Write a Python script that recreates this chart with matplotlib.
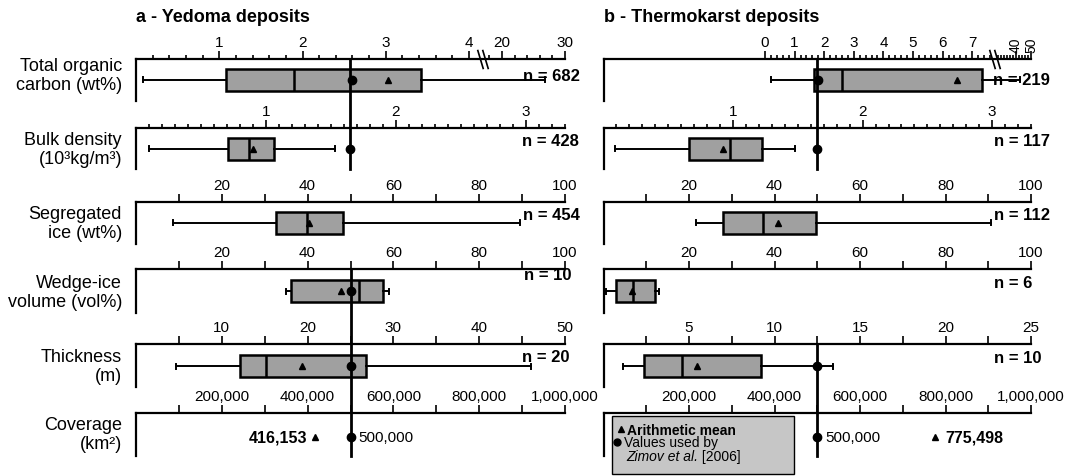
import numpy as np
import matplotlib.pyplot as plt
from matplotlib.patches import Rectangle
from matplotlib.lines import Line2D
from matplotlib.transforms import ScaledTranslation

plt.rcParams['font.family'] = ['Liberation Sans', 'DejaVu Sans']

# ---------------- data ----------------
row_labels = ['Total organic\ncarbon (wt%)', 'Bulk density\n(10³kg/m³)', 'Segregated\nice (wt%)',
              'Wedge-ice\nvolume (vol%)', 'Thickness\n(m)', 'Coverage\n(km²)']
titles = ['a - Yedoma deposits', 'b - Thermokarst deposits']

# a - Yedoma: TOC, bulk density, segregated ice, wedge ice, thickness
yed_whislo = [0.08, 0.10, 8.7, 34.9, 4.7]
yed_q1 = [1.08, 0.71, 32.6, 36.1, 12.1]
yed_med = [1.9, 0.87, 39.8, 52.0, 15.2]
yed_q3 = [3.42, 1.06, 48.2, 57.6, 26.8]
yed_whishi = [26.8, 1.53, 89.5, 59.0, 46.0]
yed_mean = [3.03, 0.90, 40.3, 47.7, 19.4]
yed_zimov = [2.6, 1.65, None, 50, 25]
yed_n = [682, 428, 454, 10, 20]
yed_cov_mean = 416153

# b - Thermokarst
tk_whislo = [0.2, 0.09, 21.7, 0.7, 1.16]
tk_q1 = [1.66, 0.66, 27.9, 2.9, 2.37]
tk_med = [2.6, 0.98, 37.3, 6.8, 4.57]
tk_q3 = [7.32, 1.22, 49.8, 12.1, 9.2]
tk_whishi = [42.7, 1.48, 90.7, 12.9, 13.4]
tk_mean = [6.48, 0.925, 40.8, 6.6, 5.49]
tk_zimov = [1.8, 1.65, None, None, 12.5]
tk_n = [219, 117, 112, 6, 10]
tk_cov_mean = 775498

zimov_cov = 500000

# ---------------- layout (pixels) ----------------
W, H = 1068, 477
panel_left = [136, 603.5]
panel_width = [429, 427.5]
row_top = [60, 129, 203, 270, 345, 414]
row_h = [42, 41, 42, 44, 43, 43]
box_y = [20.5, 20.5, 20.5, 22, 22]
label_y = [76, 150, 224, 293, 367, 435]
n_right = [[580, 579, 580, 572, 570], [1050, 1050, 1050, 1032, 1042]]
n_y = [[76.7, 141.7, 215.7, 275.7, 358], [80.7, 141.7, 215.7, 284, 358.3]]
line_top_row = [3, 4]   # lower zimov line starts at this row's spine

BOX = '#a0a0a0'
LEG = '#c6c6c6'


def broken(xp, fp):
    xp = np.asarray(xp, float)
    fp = np.asarray(fp, float)
    return (lambda v: np.interp(v, xp, fp), lambda u: np.interp(u, fp, xp))


fine = np.arange(0.2, 4.01, 0.2)
fine_b = np.arange(0.2, 7.61, 0.2)
cfg = [
    # panel a
    [dict(fun=broken([0, 4.15, 17, 30], [0, 345.5, 347.1, 429]), lim=(0, 30),
          major=[1, 2, 3, 4, 20, 30], labels=['1', '2', '3', '4', '20', '30'],
          minor=list(fine[np.abs(fine - np.round(fine)) > 0.01]) + [18, 22, 24, 26, 28],
          minlen=3, brk=10),
     dict(lim=(0, 3.3), major=[1, 2, 3], labels=['1', '2', '3'],
          minor=list(np.arange(0.1, 3.31, 0.1)), minlen=3),
     dict(lim=(0, 100), major=[20, 40, 60, 80, 100], labels=['20', '40', '60', '80', '100'],
          minor=[10, 30, 50, 70, 90], minlen=5.5),
     dict(lim=(0, 100), major=[20, 40, 60, 80, 100], labels=['20', '40', '60', '80', '100'],
          minor=[10, 30, 50, 70, 90], minlen=5.5),
     dict(lim=(0, 50), major=[10, 20, 30, 40, 50], labels=['10', '20', '30', '40', '50'],
          minor=[5, 15, 25, 35, 45], minlen=5.5),
     dict(lim=(0, 1e6), major=[2e5, 4e5, 6e5, 8e5, 1e6],
          labels=['200,000', '400,000', '600,000', '800,000', '1,000,000'],
          minor=[1e5, 3e5, 5e5, 7e5, 9e5], minlen=5.5)],
    # panel b
    [dict(fun=broken([-5.456, 7.7, 27, 50], [0, 389.4, 393, 427.5]), lim=(-5.456, 50),
          major=[0, 1, 2, 3, 4, 5, 6, 7, 40, 50], labels=['0', '1', '2', '3', '4', '5', '6', '7', '', ''],
          rot=[40, 50],
          minor=list(fine_b[np.abs(fine_b - np.round(fine_b)) > 0.01]) + list(range(28, 50, 2)),
          minlen=3, brk=17),
     dict(lim=(0, 3.3), major=[1, 2, 3], labels=['1', '2', '3'],
          minor=list(np.arange(0.1, 3.31, 0.1)), minlen=3),
     dict(lim=(0, 100), major=[20, 40, 60, 80, 100], labels=['20', '40', '60', '80', '100'],
          minor=[10, 30, 50, 70, 90], minlen=5.5),
     dict(lim=(0, 100), major=[20, 40, 60, 80, 100], labels=['20', '40', '60', '80', '100'],
          minor=[10, 30, 50, 70, 90], minlen=5.5),
     dict(lim=(0, 25), major=[5, 10, 15, 20, 25], labels=['5', '10', '15', '20', '25'],
          minor=[2.5, 7.5, 12.5, 17.5, 22.5], minlen=5.5),
     dict(lim=(0, 1e6), major=[2e5, 4e5, 6e5, 8e5, 1e6],
          labels=['200,000', '400,000', '600,000', '800,000', '1,000,000'],
          minor=[1e5, 3e5, 5e5, 7e5, 9e5], minlen=5.5)],
]

stats_all = [
    (yed_whislo, yed_q1, yed_med, yed_q3, yed_whishi, yed_mean, yed_zimov, yed_n),
    (tk_whislo, tk_q1, tk_med, tk_q3, tk_whishi, tk_mean, tk_zimov, tk_n),
]
cov_mean = [yed_cov_mean, tk_cov_mean]

fig = plt.figure(figsize=(W / 100, H / 100), dpi=100)

for r, lab in enumerate(row_labels):
    fig.text(122 / W, 1 - label_y[r] / H, lab, ha='right', va='center', fontsize=13)

for p in range(2):
    fig.text(panel_left[p] / W, 1 - 18 / H, titles[p], fontsize=13, fontweight='bold', va='center')
    whislo, q1, med, q3, whishi, mean, zim, nn = stats_all[p]
    axes = []
    for r in range(6):
        c = cfg[p][r]
        ax = fig.add_axes([panel_left[p] / W, 1 - (row_top[r] + row_h[r]) / H,
                           panel_width[p] / W, row_h[r] / H])
        axes.append(ax)
        if 'fun' in c:
            ax.set_xscale('function', functions=c['fun'])
        ax.set_xlim(*c['lim'])
        ax.set_ylim(row_h[r], 0)
        ax.patch.set_visible(False)
        ax.spines[['right', 'bottom']].set_visible(False)
        ax.spines[['top', 'left']].set_linewidth(1.6)
        ax.xaxis.tick_top()
        ax.set_yticks([])
        ax.set_xticks(c['major'], c['labels'])
        ax.set_xticks(c['minor'], minor=True)
        ax.tick_params(axis='x', which='major', direction='out', width=1.2, length=5.5,
                       labelsize=11, pad=1.5)
        ax.tick_params(axis='x', which='minor', direction='out', width=1.2, length=c['minlen'])
        for v in c.get('rot', []):
            ax.text(v, -15, str(v), rotation=90, ha='center', va='center', fontsize=10, clip_on=False)
        if 'brk' in c:
            for dx in (-2.5, 2.5):
                tr = ax.transData + ScaledTranslation(dx / 100, 0, fig.dpi_scale_trans)
                ax.plot([c['brk']], [0], marker=[(-3, 10), (3, -10)], ms=14, color='black',
                        mew=1.2, transform=tr, clip_on=False)

        if r < 5:
            st = [dict(whislo=whislo[r], q1=q1[r], med=med[r], q3=q3[r], whishi=whishi[r],
                       mean=mean[r])]
            ax.bxp(st, positions=[box_y[r]], widths=22, orientation='horizontal',
                   showmeans=True, showfliers=False, patch_artist=True, manage_ticks=False,
                   capwidths=5,
                   boxprops=dict(facecolor=BOX, edgecolor='black', linewidth=1.8),
                   medianprops=dict(color='black', linewidth=1.8),
                   whiskerprops=dict(color='black', linewidth=1.4),
                   capprops=dict(color='black', linewidth=1.4),
                   meanprops=dict(marker='^', markerfacecolor='black',
                                  markeredgecolor='black', markersize=5))
            if zim[r] is not None:
                ax.plot([zim[r]], [box_y[r]], 'o', color='black', ms=6, zorder=6)
            fig.text(n_right[p][r] / W, 1 - n_y[p][r] / H, f'n = {nn[r]}', ha='right',
                     va='center', fontsize=12, fontweight='bold')
        else:
            ax.plot([zimov_cov], [24], 'o', color='black', ms=6, zorder=6)
            ax.plot([cov_mean[p]], [24], '^', color='black', ms=5, zorder=6)
            ax.annotate('500,000', (zimov_cov, 24), xytext=(5.5, 0), textcoords='offset points',
                        ha='left', va='center', fontsize=11)
            if p == 0:
                ax.annotate(f'{cov_mean[p]:,}', (cov_mean[p], 24), xytext=(-5, 0),
                            textcoords='offset points', ha='right', va='center',
                            fontsize=11.5, fontweight='bold')
            else:
                ax.annotate(f'{cov_mean[p]:,}', (cov_mean[p], 24), xytext=(7.5, 0),
                            textcoords='offset points', ha='left', va='center',
                            fontsize=11.5, fontweight='bold')

    # Zimov reference lines
    bd = axes[1]
    bd.axvline(zim[1], 0, (row_top[1] + row_h[1] - row_top[0]) / row_h[1], color='black',
               lw=2, clip_on=False, zorder=7)
    cv = axes[5]
    cv.axvline(zimov_cov, 0, (row_top[5] + row_h[5] - row_top[line_top_row[p]]) / row_h[5],
               color='black', lw=2, clip_on=False, zorder=7)

# legend box
fig.patches.append(Rectangle((612 / W, 1 - 475 / H), (794 - 612) / W, (475 - 417) / H,
                             transform=fig.transFigure, facecolor=LEG, edgecolor='black',
                             lw=1, zorder=-1))
fig.add_artist(Line2D([620.7 / W], [1 - 429.5 / H], transform=fig.transFigure, marker='^',
                      color='black', ms=4.5, ls='none'))
fig.add_artist(Line2D([617 / W], [1 - 443.3 / H], transform=fig.transFigure, marker='o',
                      color='black', ms=5, ls='none'))
fig.text(627 / W, 1 - 430.7 / H, 'Arithmetic mean', fontsize=10, fontweight='bold', va='center')
fig.text(623.5 / W, 1 - 443.3 / H, 'Values used by', fontsize=10, va='center')
t = fig.text(626 / W, 1 - 456.7 / H, 'Zimov et al.', fontsize=10, style='italic', va='center')
fig.axes[-1].annotate(' [2006]', xy=(1, 0.5), xycoords=t, ha='left', va='center', fontsize=10,
                      annotation_clip=False)

fig.savefig('out.png', dpi=100)
